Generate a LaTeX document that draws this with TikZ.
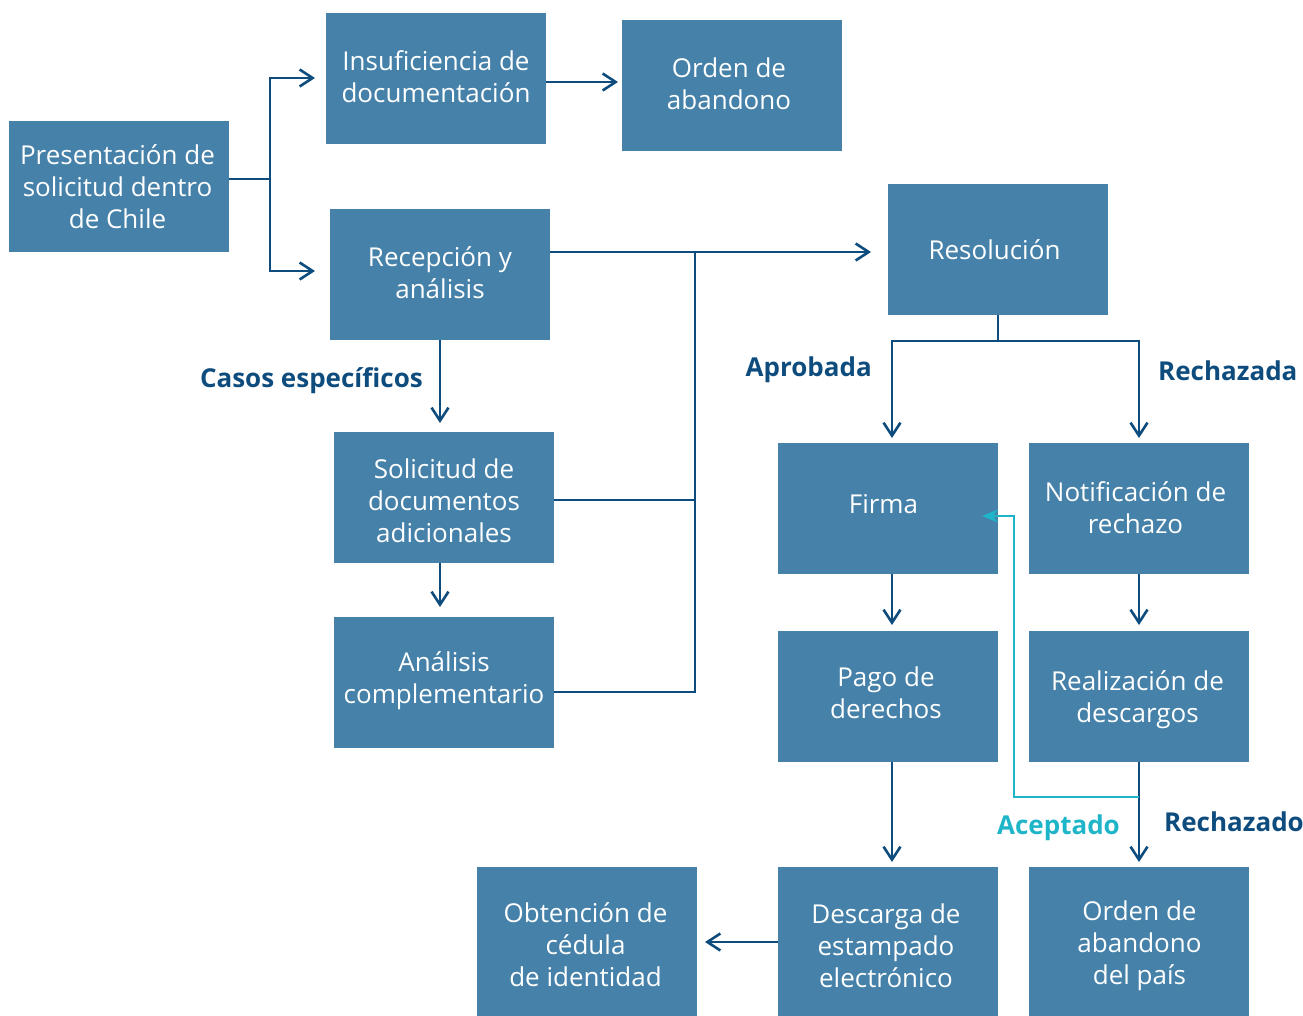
\documentclass[tikz,border=0pt]{standalone}
\usepackage{fontspec}
\setmainfont{Open Sans}
\usetikzlibrary{arrows.meta}
\definecolor{boxfill}{HTML}{4581A9}
\definecolor{linec}{HTML}{0E4C7E}
\definecolor{cyanc}{HTML}{1FB5C9}
\tikzset{
  x=1pt,y=-1pt,
  box/.style={fill=boxfill,draw=none,minimum width=220pt,minimum height=131pt,inner sep=0pt},
  txt/.style={text=white,align=center,inner sep=0pt,font=\fontsize{26}{32}\selectfont},
  conn/.style={draw=linec,line width=2.6pt},
  arr/.style={conn,-{Straight Barb[length=13pt,width=17pt,line width=2.6pt]}},
  carr/.style={draw=cyanc,line width=2.6pt,-{Stealth[length=16pt,width=13pt]}},
  lbl/.style={text=linec,font=\fontsize{26}{30}\selectfont\bfseries,inner sep=0pt},
}
\begin{document}
\begin{tikzpicture}
\useasboundingbox (0,0) rectangle (1303,1016);
\node[box,label={[txt,shift={(-1.5,0)}]center:Presentación de\\solicitud dentro\\de Chile}] (pres) at (119,187) {};
\node[box,label={[txt,shift={(0,-2)}]center:Insuficiencia de\\documentación}] (insu) at (436,78.5) {};
\node[box,label={[txt,shift={(-3,-2)}]center:Orden de\\abandono}] (orden) at (732,85.5) {};
\node[box,label={[txt,shift={(0,-2)}]center:Recepción y\\análisis}] (rec) at (440,274.5) {};
\node[box,label={[txt,shift={(-3.5,0)}]center:Resolución}] (reso) at (998,249.5) {};
\node[box,label={[txt,shift={(0,3)}]center:Solicitud de\\documentos\\adicionales}] (soli) at (444,497.5) {};
\node[box,label={[txt,shift={(0,-2)}]center:Análisis\\complementario}] (anal) at (444,682.5) {};
\node[box,label={[txt,shift={(-4.5,-4)}]center:Firma}] (firma) at (888,508.5) {};
\node[box,label={[txt,shift={(-3.5,-1)}]center:Notificación de\\rechazo}] (noti) at (1139,508.5) {};
\node[box,label={[txt,shift={(-2,-4)}]center:Pago de\\derechos}] (pago) at (888,696.5) {};
\node[box,label={[txt,shift={(-1.5,3)}]center:Realización de\\descargos}] (real) at (1139,696.5) {};
\node[box,minimum height=149pt,label={[txt,shift={(-1.5,3)}]center:Obtención de\\cédula\\de identidad}] (obt) at (587,941.5) {};
\node[box,minimum height=149pt,label={[txt,shift={(-2,4)}]center:Descarga de\\estampado\\electrónico}] (desc) at (888,941.5) {};
\node[box,minimum height=149pt,label={[txt,shift={(0.5,4)}]center:Orden de\\abandono\\del país}] (opais) at (1139,941.5) {};

% coordinates
\coordinate (j1) at (270,179);
\coordinate (t1) at (315,78);
\coordinate (t2) at (315,271);
\coordinate (t3) at (618,82);
\coordinate (j2) at (695,252);
\coordinate (t4) at (871,252);
\coordinate (j3) at (695,500);
\coordinate (j4) at (695,692);
\coordinate (t5) at (440,423);
\coordinate (t6) at (440,607);
\coordinate (j5) at (998,341);
\coordinate (t7) at (892,438);
\coordinate (t8) at (1139,438);
\coordinate (t9) at (892,625);
\coordinate (t10) at (1139,625);
\coordinate (t11) at (892,862);
\coordinate (t12) at (1139,862);
\coordinate (c1) at (1139,797);
\coordinate (c2) at (1014,797);
\coordinate (c3) at (1014,516);
\coordinate (t13) at (982,516);
\coordinate (t14) at (705,942);

\draw[conn] (pres.east |- j1) -- (j1);
\draw[arr] (j1) |- (t1);
\draw[arr] (j1) |- (t2);
\draw[arr] (insu.east |- t3) -- (t3);
\draw[arr] (rec.east |- t4) -- (t4);
\draw[conn] (soli.east |- j3) -- (j3);
\draw[conn] (anal.east |- j4) -- (j4) -- (j2);
\draw[arr] (rec.south -| t5) -- (t5);
\draw[arr] (soli.south -| t6) -- (t6);
\draw[conn] (reso.south) -- (j5);
\draw[arr] (j5) -| (t7);
\draw[arr] (j5) -| (t8);
\draw[arr] (firma.south -| t9) -- (t9);
\draw[arr] (noti.south -| t10) -- (t10);
\draw[arr] (pago.south -| t11) -- (t11);
\draw[arr] (real.south -| t12) -- (t12);
\draw[carr] (c1) -- (c2) -- (c3) -- (t13);
\draw[arr] (desc.west |- t14) -- (t14);

\node[lbl,anchor=east] (l1) at (423,381) {Casos específicos};
\node[lbl,anchor=east] (l2) at (872,370) {Aprobada};
\node[lbl,anchor=west] (l3) at (1158,371) {Rechazada};
\node[lbl,anchor=west] (l4) at (1164,822) {Rechazado};
\node[lbl,anchor=east,text=cyanc] (l5) at (1120,828) {Aceptado};
\end{tikzpicture}
\end{document}
